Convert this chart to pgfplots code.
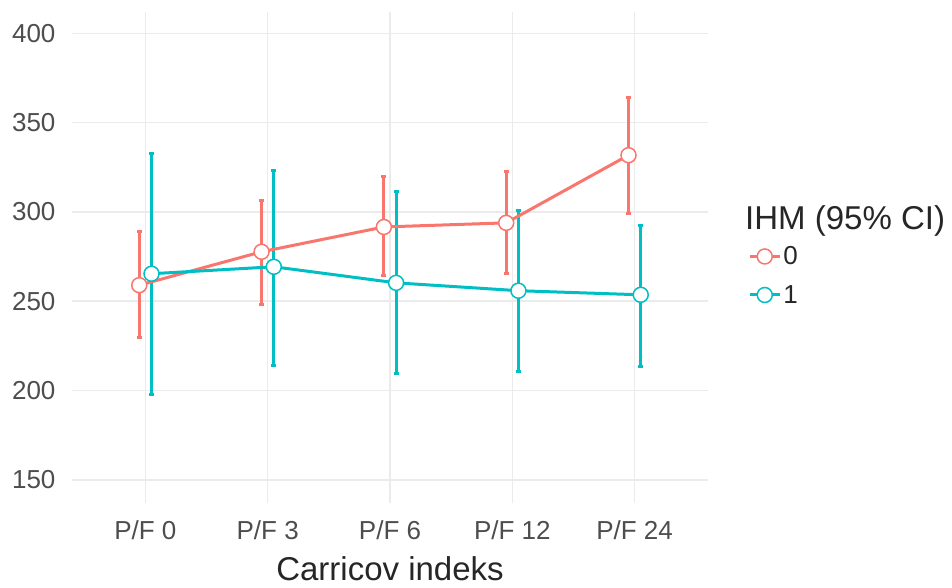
\documentclass[border=0pt]{standalone}
\usepackage{fontspec}
\setmainfont{Liberation Sans}
\usepackage{pgfplots}
\pgfplotsset{compat=1.18}
\definecolor{cred}{HTML}{F8766D}
\definecolor{cblue}{HTML}{00BFC4}
\definecolor{tickgray}{HTML}{4D4D4D}
\definecolor{gridgray}{HTML}{EBEBEB}
\begin{document}
\begin{tikzpicture}[x=1pt,y=1pt]
\useasboundingbox (0,0) rectangle (952,588);
\begin{axis}[
  at={(72pt,85pt)}, anchor=south west,
  width=636pt, height=491pt, scale only axis,
  xmin=-0.6, xmax=4.6, ymin=137, ymax=412,
  xtick={0,1,2,3,4},
  xticklabels={P/F 0,P/F 3,P/F 6,P/F 12,P/F 24},
  ytick={150,200,250,300,350,400},
  axis line style={draw=none},
  major tick length=0pt,
  grid=major,
  major grid style={color=gridgray, line width=1.5pt},
  /pgf/number format/assume math mode=true,
  tick label style={font=\fontsize{26}{30}\selectfont, text=tickgray},
  xticklabel style={yshift=-14pt},
  yticklabel style={xshift=-13pt},
  xlabel={Carricov indeks},
  xlabel style={font=\fontsize{33}{38}\selectfont, text=black!85, yshift=-10pt},
  clip=false,
  legend style={at={(1.063,0.463)}, anchor=west, draw=none, fill=none,
    font=\fontsize{26}{30}\selectfont, text=black!85, inner sep=0pt,
    row sep=15pt,
    nodes={inner sep=2pt}},
  legend cell align=left,
  legend image code/.code={%
    \draw[#1, mark=none] (0pt,0pt) -- (30pt,0pt);
    \draw[#1, only marks] plot coordinates {(15pt,0pt)};
  },
]
% error bars
\addplot[forget plot, draw=none, mark=none, error bars/.cd, y dir=both, y explicit,
  error bar style={cred, line width=3pt},
  error mark options={cred, rotate=90, mark size=2.5pt, line width=3pt}]
  coordinates {
  (-0.05,259.0) += (0,29.8) -= (0,29.2)
  (0.95,277.7) += (0,29.0) -= (0,29.4)
  (1.95,291.6) += (0,28.0) -= (0,27.4)
  (2.95,293.9) += (0,28.5) -= (0,28.5)
  (3.95,331.8) += (0,32.4) -= (0,32.4)
};
\addplot[forget plot, draw=none, mark=none, error bars/.cd, y dir=both, y explicit,
  error bar style={cblue, line width=3pt},
  error mark options={cblue, rotate=90, mark size=2.5pt, line width=3pt}]
  coordinates {
  (0.05,265.4) += (0,67.6) -= (0,67.6)
  (1.05,269.3) += (0,54.2) -= (0,55.1)
  (2.05,260.3) += (0,50.9) -= (0,50.5)
  (3.05,255.9) += (0,44.7) -= (0,45.0)
  (4.05,253.6) += (0,38.6) -= (0,39.9)
};
% lines
\addplot[forget plot, cred, line width=3pt, mark=none] coordinates {
  (-0.05,259.0) (0.95,277.7) (1.95,291.6) (2.95,293.9) (3.95,331.8)};
\addplot[forget plot, cblue, line width=3pt, mark=none] coordinates {
  (0.05,265.4) (1.05,269.3) (2.05,260.3) (3.05,255.9) (4.05,253.6)};
% points
\addplot[cred, line width=3pt, mark=*, only marks, mark size=7.5pt,
  mark options={fill=white, draw=cred, line width=1.5pt}] coordinates {
  (-0.05,259.0) (0.95,277.7) (1.95,291.6) (2.95,293.9) (3.95,331.8)};
\addlegendentry{0}
\addplot[cblue, line width=3pt, mark=*, only marks, mark size=7.5pt,
  mark options={fill=white, draw=cblue, line width=1.5pt}] coordinates {
  (0.05,265.4) (1.05,269.3) (2.05,260.3) (3.05,255.9) (4.05,253.6)};
\addlegendentry{1}
\end{axis}
\node[anchor=west, inner sep=0pt, font=\fontsize{33}{38}\selectfont, text=black!85] at (745,367) {IHM (95\% CI)};
\end{tikzpicture}
\end{document}
